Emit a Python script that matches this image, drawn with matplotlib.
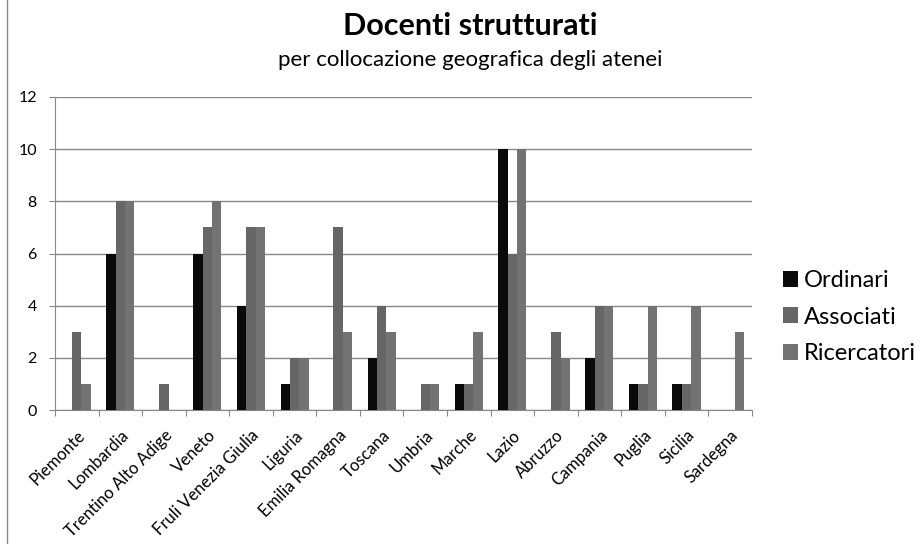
import numpy as np
import matplotlib.pyplot as plt
from matplotlib.lines import Line2D

regioni = ['Piemonte', 'Lombardia', 'Trentino Alto Adige', 'Veneto',
           'Fruli Venezia Giulia', 'Liguria', 'Emilia Romagna', 'Toscana',
           'Umbria', 'Marche', 'Lazio', 'Abruzzo', 'Campania', 'Puglia',
           'Sicilia', 'Sardegna']
ordinari = [0, 6, 0, 6, 4, 1, 0, 2, 0, 1, 10, 0, 2, 1, 1, 0]
associati = [3, 8, 1, 7, 7, 2, 7, 4, 1, 1, 6, 3, 4, 1, 1, 0]
ricercatori = [1, 8, 0, 8, 7, 2, 3, 3, 1, 3, 10, 2, 4, 4, 4, 3]
y_ticks = [0, 2, 4, 6, 8, 10, 12]

plt.rcParams['font.family'] = ['Lato', 'DejaVu Sans']
grigio = '#888888'

fig = plt.figure(figsize=(9.23, 5.44), dpi=100)
ax = fig.add_axes([0.0596, 0.246, 0.755, 0.576])

x = np.arange(len(regioni))
w = 0.215
serie = [('Ordinari', ordinari, '#0a0a0a'),
         ('Associati', associati, '#666666'),
         ('Ricercatori', ricercatori, '#737373')]
for i, (nome, valori, colore) in enumerate(serie):
    ax.bar(x + (i - 1) * w, valori, w, color=colore, label=nome, zorder=3)

ax.set_xlim(-0.5, len(regioni) - 0.5)
ax.set_ylim(0, 12)
ax.set_yticks(y_ticks)
ax.yaxis.grid(True, color=grigio, linewidth=1.0, zorder=0)

# category ticks sit between groups, labels under the group centres
ax.set_xticks(np.arange(-0.5, len(regioni)))
ax.set_xticklabels([])
ax.set_xticks(x, minor=True)
ax.set_xticklabels(regioni, minor=True, rotation=45, ha='right',
                   rotation_mode='anchor', fontsize=12)
ax.tick_params(axis='x', which='minor', length=0, pad=12)
ax.tick_params(axis='x', which='major', length=4, color=grigio)
ax.tick_params(axis='y', length=4, color=grigio, labelsize=11.5, pad=9)

for s in ['top', 'right']:
    ax.spines[s].set_visible(False)
for s in ['left', 'bottom']:
    ax.spines[s].set_color(grigio)

fig.text(0.510, 0.936, 'Docenti strutturati', ha='center', va='baseline',
         fontsize=22, fontweight='bold')
fig.text(0.510, 0.878, 'per collocazione geografica degli atenei',
         ha='center', va='baseline', fontsize=16)

ax.legend(loc='center left', bbox_to_anchor=(1.044, 0.297), frameon=False,
          fontsize=17, handlelength=0.65, handleheight=0.65, handletextpad=0.25,
          labelspacing=0.65, borderaxespad=0.0, borderpad=0.0)

fig.add_artist(Line2D([0.0076, 0.0076], [0.0, 1.0], color=grigio,
                      linewidth=1.0, transform=fig.transFigure))

fig.savefig('out.png', dpi=100)
